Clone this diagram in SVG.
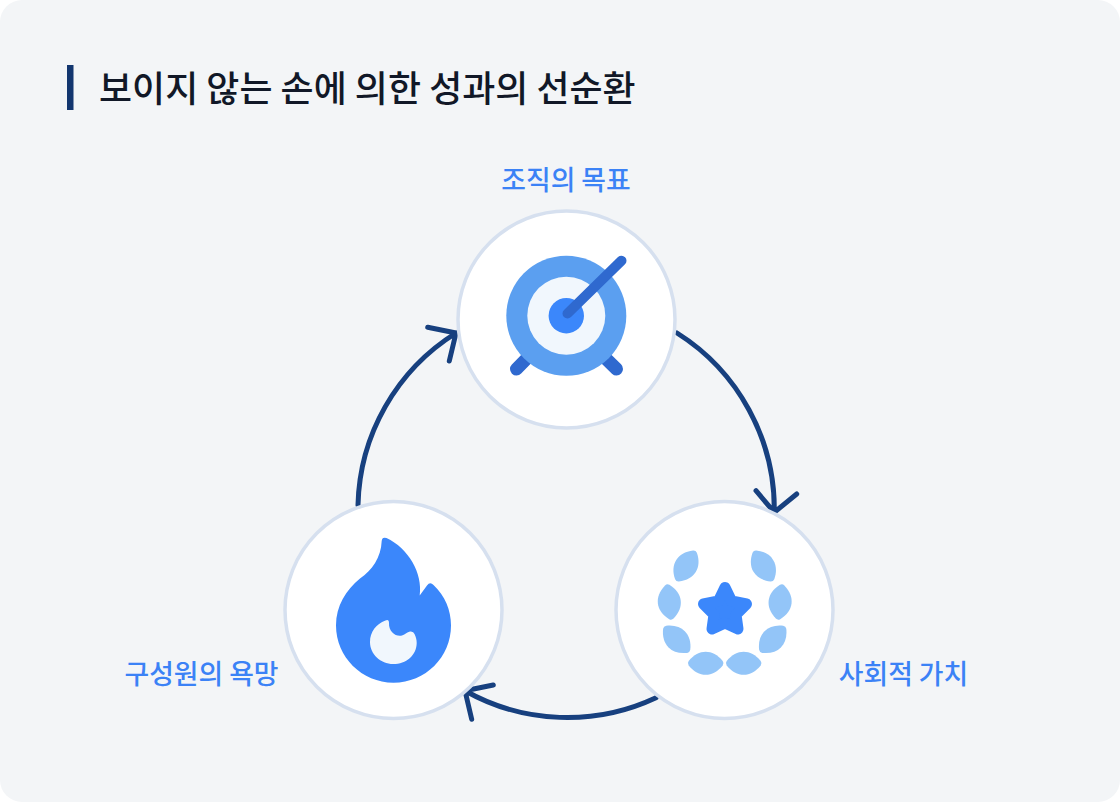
<svg xmlns="http://www.w3.org/2000/svg" width="1120" height="802" viewBox="0 0 1120 802">
<style>
.title{font-family:"Noto Sans CJK KR","Noto Sans",sans-serif;font-size:35.9px;letter-spacing:.05px;font-weight:500;fill:#111827}
.label{font-family:"Noto Sans CJK KR","Noto Sans",sans-serif;font-size:26.8px;font-weight:500;fill:#3b82f6}
.ring{fill:#fff;stroke:#d6e0ef;stroke-width:3.5}
.conn{fill:none;stroke:#17407f;stroke-width:5;stroke-linecap:round;stroke-linejoin:round}
.leaf{fill:#93c5f8}
.stick{stroke:#2f69cf;stroke-linecap:round;fill:none}
</style>
<defs>
<path id="lens" d="M-17 -2.2C-12 -8.5 -6 -11.5 0 -11.5C6 -11.5 12 -8.5 17 -2.2Q18.6 0 17 2.2C12 8.5 6 11.5 0 11.5C-6 11.5 -12 8.5 -17 2.2Q-18.6 0 -17 -2.2Z"/>
</defs>
<rect width="1120" height="802" fill="#fff"/>
<rect id="panel" width="1120" height="802" rx="22" fill="#f3f5f7"/>
<g id="heading">
<rect x="67" y="65" width="6.5" height="45" fill="#12366f"/>
<text class="title" x="99" y="102">보이지 않는 손에 의한 성과의 선순환</text>
</g>
<g id="connectors" class="conn">
<path d="M677 333A208.5 208.5 0 0 1 774.3 512.3M756 490.7L774.3 512.3L796.7 494"/>
<path d="M656 697.7A208.5 208.5 0 0 1 465 690.7M493.3 685L465 690.7L471.7 719.3"/>
<path d="M358 505A208.5 208.5 0 0 1 456 333M427.7 327.3L456 333L449.3 361"/>
</g>
<g id="node-goal">
<circle class="ring" cx="566.5" cy="319.5" r="108.5"/>
<path class="stick" stroke-width="13" d="M516.5 369L540 345M616.5 369L592 345"/>
<circle cx="566.3" cy="315.7" r="60" fill="#5b9ff0"/>
<circle cx="566.3" cy="315.7" r="39" fill="#f1f7fd"/>
<circle cx="566.3" cy="315.7" r="17.7" fill="#3b87fb"/>
<path class="stick" stroke-width="10" d="M567.5 313.5L621.5 260.7"/>
<text class="label" x="566" y="190" text-anchor="middle">조직의 목표</text>
</g>
<g id="node-value">
<circle class="ring" cx="724.5" cy="610" r="108.5"/>
<g class="leaf">
<use href="#lens" transform="translate(705.7 663.3)"/>
<use href="#lens" transform="translate(743.7 663.3)"/>
<use href="#lens" transform="translate(676.7 639.3) rotate(45)"/>
<use href="#lens" transform="translate(772.7 639.3) rotate(-45)"/>
<use href="#lens" transform="translate(669.3 602) rotate(83)"/>
<use href="#lens" transform="translate(780.1 602) rotate(-83)"/>
<use href="#lens" transform="translate(686 566) rotate(-58)"/>
<use href="#lens" transform="translate(763.4 566) rotate(58)"/>
</g>
<path d="M725 587.5L731.5 601L746.5 604L736 614.5L738 629L725 623L712 629L714 614.5L703.5 604L718.5 601Z" fill="#3b87fb" stroke="#3b87fb" stroke-width="11" stroke-linejoin="round"/>
<text class="label" x="903.5" y="684" text-anchor="middle">사회적 가치</text>
</g>
<g id="node-desire">
<circle class="ring" cx="393.5" cy="610" r="108.5"/>
<path d="M381.7 541Q382 536.5 386.5 538C408 548 423 573 419.7 595.5L427 585.5Q430 581.5 433.5 585C445 596 451 610 451 625.5C451 657 425.5 682.7 393.5 682.7C362 682.7 336 657 336 625.5C336 606 346 590 360 578.5C372 570 381 558 381.7 541Z" fill="#3b87fb"/>
<path d="M385.5 620.5Q389 619 389 623C388.5 632 396 637 402 635.5C405.5 634.5 407 632 410 631.5Q413.5 631 414.5 634C416 637 416.7 640 416.7 642.7C416.7 655.5 406 664 393.3 664C380.5 664 370 654 370 642C370 632 376 624 385.5 620.5Z" fill="#f1f7fd"/>
<text class="label" x="201.5" y="684" text-anchor="middle">구성원의 욕망</text>
</g>
</svg>
